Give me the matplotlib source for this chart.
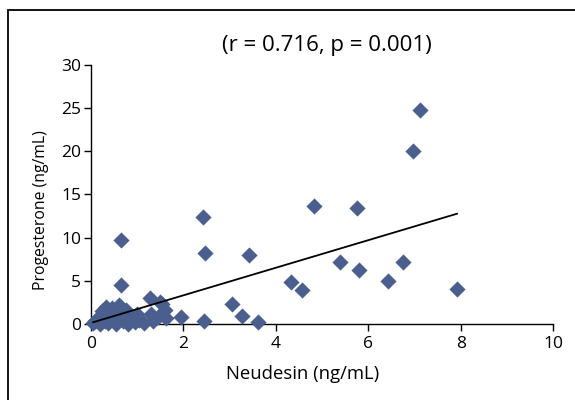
import numpy as np
import matplotlib
matplotlib.use("Agg")
import matplotlib.pyplot as plt
from matplotlib.patches import Rectangle

plt.rcParams["font.family"] = ["Open Sans", "DejaVu Sans"]

# Neudesin vs progesterone
neudesin = [0.05, 0.10, 0.15, 0.20, 0.22, 0.25, 0.30, 0.32, 0.38, 0.40,
            0.45, 0.50, 0.55, 0.60, 0.62, 0.65, 0.65, 0.70, 0.75, 0.80,
            0.85, 0.95, 1.00, 1.05, 1.15, 1.28, 1.30, 1.35, 1.46, 1.50,
            1.53, 1.60, 1.62, 1.94, 2.43, 2.45, 2.47, 3.06, 3.27, 3.42,
            3.61, 4.34, 4.57, 4.82, 5.40, 5.76, 5.79, 6.43, 6.76, 6.97,
            7.11, 7.92]
progesterone = [0.10, 0.30, 0.60, 0.00, 1.00, 1.50, 0.40, 2.00, 0.10, 1.20,
                1.80, 0.60, 0.00, 2.20, 1.20, 4.50, 9.70, 0.40, 1.60, 0.00,
                0.90, 0.20, 1.10, 0.50, 0.10, 3.00, 1.20, 0.30, 0.85, 2.50,
                2.30, 1.60, 0.70, 0.85, 12.40, 0.40, 8.20, 2.30, 0.90, 8.00,
                0.20, 4.90, 3.90, 13.60, 7.20, 13.40, 6.30, 5.00, 7.20, 20.00,
                24.80, 4.10]

x = np.array(neudesin)
y = np.array(progesterone)
slope, intercept = np.polyfit(x, y, 1)

fig = plt.figure(figsize=(5.75, 4.0), dpi=100)
ax = fig.add_axes([0.158, 0.19, 0.804, 0.648])

ax.scatter(x, y, marker="D", s=68, color="#4a5f8e", zorder=3, clip_on=False,
           linewidths=0)

# regression line over the data range
xs = np.array([x.min(), x.max()])
ax.plot(xs, intercept + slope * xs, color="black", linewidth=1.3, zorder=4)

ax.set_xlim(0, 10)
ax.set_ylim(0, 30)
ax.set_xticks([0, 2, 4, 6, 8, 10])
ax.set_yticks([0, 5, 10, 15, 20, 25, 30])
for s in ["top", "right"]:
    ax.spines[s].set_visible(False)
for s in ["left", "bottom"]:
    ax.spines[s].set_linewidth(1.0)
ax.tick_params(direction="out", length=5, width=1.0, labelsize=12.5)
ax.tick_params(axis="x", pad=4)
ax.tick_params(axis="y", pad=2)
ax.set_xlabel("Neudesin (ng/mL)", fontsize=13.3)
ax.set_ylabel("Progesterone (ng/mL)", fontsize=11.3)
ax.xaxis.set_label_coords(0.457, -0.16)
ax.yaxis.set_label_coords(-0.09, 0.44)

fig.text(0.568, 0.885, "(r = 0.716, p = 0.001)", ha="center", va="center",
         fontsize=16)

# outer frame (right and bottom edges fall outside the image)
fig.patches.append(Rectangle((0.014, -0.1), 1.2, 1.075, transform=fig.transFigure,
                             fill=False, edgecolor="black", linewidth=1.3))

fig.savefig("out.png", dpi=100)
